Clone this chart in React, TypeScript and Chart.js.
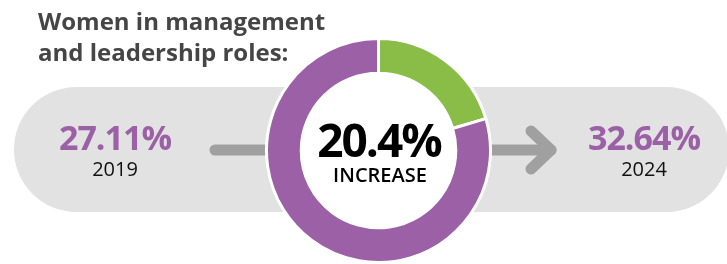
import React, { useEffect, useRef } from "react";
import { Chart, registerables } from "chart.js";

Chart.register(...registerables);

const segmentLabels = ["Increase", "Remainder"];
const segmentValues = [20.4, 79.6];
const segmentColors = ["#89bd47", "#9b60a5"];
const titleLines = ["Women in management", "and leadership roles:"];
const startValue = "27.11%";
const startYear = "2019";
const endValue = "32.64%";
const endYear = "2024";
const centerValue = "20.4%";
const centerLabel = "INCREASE";

const FONT = "'Open Sans', 'Noto Sans', sans-serif";
const PURPLE = "#9b60a5";

const backdropPlugin = {
  id: "backdrop",
  beforeDatasetsDraw(chart: any) {
    const ctx = chart.ctx as CanvasRenderingContext2D;
    ctx.save();
    // pill
    const top = 87, bottom = 212, left = 14, right = 729;
    const r = (bottom - top) / 2;
    ctx.fillStyle = "#e2e2e2";
    ctx.beginPath();
    ctx.moveTo(left + r, top);
    ctx.lineTo(right - r, top);
    ctx.arc(right - r, top + r, r, -Math.PI / 2, Math.PI / 2);
    ctx.lineTo(left + r, bottom);
    ctx.arc(left + r, top + r, r, Math.PI / 2, (3 * Math.PI) / 2);
    ctx.closePath();
    ctx.fill();
    // lines / arrow
    ctx.strokeStyle = "#a0a0a0";
    ctx.lineWidth = 11;
    ctx.lineCap = "round";
    ctx.lineJoin = "round";
    ctx.beginPath();
    ctx.moveTo(215, 150);
    ctx.lineTo(300, 150);
    ctx.stroke();
    ctx.beginPath();
    ctx.moveTo(460, 150);
    ctx.lineTo(551, 150);
    ctx.stroke();
    ctx.beginPath();
    ctx.moveTo(531, 131);
    ctx.lineTo(551, 150);
    ctx.lineTo(531, 169);
    ctx.stroke();
    // white hole of the doughnut
    const arc = chart.getDatasetMeta(0).data[0] as any;
    if (arc) {
      ctx.fillStyle = "#ffffff";
      ctx.beginPath();
      ctx.arc(arc.x, arc.y, arc.innerRadius + 1, 0, Math.PI * 2);
      ctx.fill();
    }
    ctx.restore();
  },
};

function Txt(props: {
  text: string;
  cx?: number;
  left?: number;
  baseline: number;
  size: number;
  weight: number;
  color: string;
  ls?: number;
}) {
  const { text, cx, left, baseline, size, weight, color, ls } = props;
  const top = baseline - 0.888 * size;
  const style: React.CSSProperties = {
    position: "absolute",
    top,
    fontFamily: FONT,
    fontSize: size,
    fontWeight: weight,
    lineHeight: `${size}px`,
    color,
    whiteSpace: "nowrap",
    letterSpacing: ls ? `${ls}px` : undefined,
  };
  if (cx !== undefined) {
    style.left = cx - 200;
    style.width = 400;
    style.textAlign = "center";
  } else {
    style.left = left;
  }
  return <div style={style}>{text}</div>;
}

export default function App() {
  const ref = useRef<HTMLCanvasElement>(null);
  useEffect(() => {
    if (!ref.current) return;
    const chart = new Chart(ref.current, {
      type: "doughnut",
      data: {
        labels: segmentLabels,
        datasets: [
          {
            data: segmentValues,
            backgroundColor: segmentColors,
            borderColor: "#ffffff",
            borderWidth: 3,
          },
        ],
      },
      options: {
        responsive: false,
        animation: false,
        cutout: "69%",
        layout: { padding: { left: 265, right: 235, top: 37, bottom: 0 } },
        plugins: { legend: { display: false }, tooltip: { enabled: false } },
      },
      plugins: [backdropPlugin],
    });
    return () => chart.destroy();
  }, []);

  return (
    <div
      style={{
        position: "absolute",
        left: 0,
        top: 0,
        width: 727,
        height: 264,
        overflow: "hidden",
        background: "#ffffff",
      }}
    >
      <canvas ref={ref} width={727} height={264} style={{ position: "absolute", left: 0, top: 0 }} />
      <Txt text={titleLines[0]} left={38} baseline={30} size={24} weight={700} color="#454545" />
      <Txt text={titleLines[1]} left={38} baseline={61} size={24} weight={700} color="#454545" />
      <Txt text={startValue} cx={115} baseline={150} size={34} weight={700} color={PURPLE} ls={-1} />
      <Txt text={startYear} cx={115} baseline={177} size={20} weight={400} color="#111111" />
      <Txt text={centerValue} cx={379} baseline={157} size={46} weight={700} color="#000000" ls={-2} />
      <Txt text={centerLabel} cx={380} baseline={183} size={20} weight={600} color="#000000" />
      <Txt text={endValue} cx={644} baseline={150} size={34} weight={700} color={PURPLE} ls={-1} />
      <Txt text={endYear} cx={644} baseline={177} size={20} weight={400} color="#111111" />
    </div>
  );
}
